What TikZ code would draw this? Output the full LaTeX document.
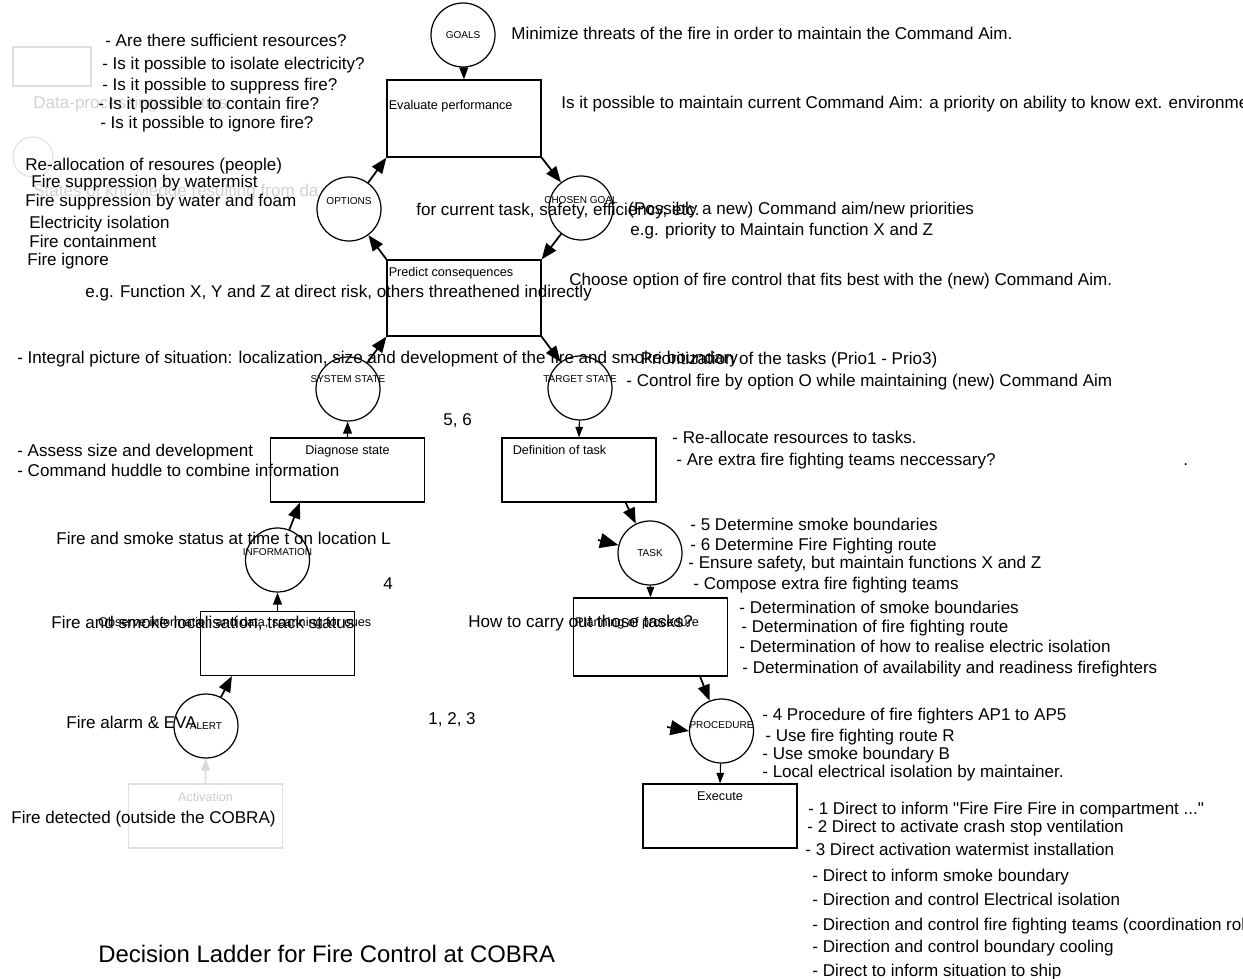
\documentclass[tikz,border=0pt]{standalone}
\usepackage{fontspec}
\setmainfont{Liberation Sans}
\usetikzlibrary{positioning,arrows.meta,calc}

\begin{document}
\begin{tikzpicture}[
    x=0.02cm, y=-0.02cm,
    every node/.style={font=\fontsize{9.7}{11}\selectfont},
    note/.style={anchor=west, inner sep=0pt, text height=7pt, text depth=2pt, yshift=-0.04cm},
    faded/.style={draw=gray!25, text=gray!35, line width=0.6pt},
    stepbox/.style={draw, line width=0.7pt, fill=white, minimum width=3.08cm, minimum height=1.28cm, inner sep=0pt},
    boxlabel/.style={inner sep=0pt, font=\fontsize{7.2}{8}\selectfont},
    statecirc/.style n args={2}{circle, draw, line width=0.7pt, fill=white, minimum size=1.28cm, inner sep=0pt,
      label={[inner sep=0pt, yshift=#2, font=\fontsize{5.7}{6}\selectfont]center:#1}},
    bigarrow/.style={-{Triangle[length=9pt,width=7pt]}, line width=1pt},
    strayarrow/.style={-{Triangle[length=10.5pt,width=8.5pt]}, line width=1pt},
    midarrow/.style={-{Triangle[length=6.8pt,width=5pt]}, line width=0.8pt},
    smallarrow/.style={-{Triangle[length=6pt,width=4.3pt]}, line width=0.6pt},
    titletext/.style={anchor=west, inner sep=0pt, font=\fontsize{13.6}{15}\selectfont}
  ]
    \useasboundingbox (0,0) rectangle (1243,979);
    \clip (0,0) rectangle (1243,979);

    % legend
    \node[faded, draw, minimum width=1.56cm, minimum height=0.78cm] (leg_box) at (52,66.5) {};
    \node[note, text=gray!35] (leg_box_txt) at (33,102) {Data-processing activities};
    \node[faded, draw, circle, minimum size=0.8cm] (leg_circ) at (33,157) {};
    \begin{scope}
      \clip (0,175) rectangle (318,205);
      \node[note, text=gray!35] (leg_circ_txt) at (33,190) {States of knowledge resulting from dataprocessing};
    \end{scope}

    % data-processing activities
    \node[stepbox, faded] (activation) at (205.5,816) {};
    \node[boxlabel, text=gray!40, below=0.16cm of activation.north] {Activation};
    \node[stepbox] (obs) at (277.5,643.5) {};
    \node[boxlabel, anchor=west] at (98,623) {Observe information and data, scanning for cues};
    \node[stepbox] (diag) at (347.5,470) {};
    \node[boxlabel, below=0.16cm of diag.north] {Diagnose state};
    \node[stepbox, minimum height=1.52cm] (pred) at (464,298) {};
    \node[boxlabel, below right=0.15cm and 0.04cm of pred.north west] {Predict consequences};
    \node[stepbox, minimum height=1.54cm] (eval) at (464,118.5) {};
    \node[boxlabel, below right=0.41cm and 0.04cm of eval.north west] {Evaluate performance};
    \node[stepbox] (deftask) at (579,470) {};
    \node[boxlabel, below right=0.16cm and 0.22cm of deftask.north west] {Definition of task};
    \node[stepbox, minimum height=1.56cm] (plan) at (650.5,637) {};
    \node[boxlabel, below right=0.39cm and 0.04cm of plan.north west] {Planning of procedure};
    \node[stepbox] (exec) at (720,816) {};
    \node[boxlabel, below=0.16cm of exec.north] {Execute};

    % states of knowledge
    \node[statecirc={ALERT}{0pt}] (alert) at (206,726) {};
    \node[statecirc={INFORMATION}{4.5pt}] (info) at (277.5,560) {};
    \node[statecirc={SYSTEM STATE}{5.5pt}] (system) at (348,389) {};
    \node[statecirc={OPTIONS}{4.5pt}] (options) at (349,209) {};
    \node[statecirc={GOALS}{0pt}] (goals) at (463,35) {};
    \node[statecirc={CHOSEN GOAL}{4.5pt}] (chosen) at (581,208) {};
    \node[statecirc={TARGET STATE}{5pt}] (target) at (580,388) {};
    \node[statecirc={TASK}{0pt}] (task) at (650,553) {};
    \node[statecirc={PROCEDURE}{3.5pt}] (proc) at (721.5,731) {};

    \coordinate (taskin) at (598,540);
    \coordinate (procin) at (667,727);

    % connectors
    \draw[midarrow, draw=gray!30, fill=gray!30] (activation.north) -- (alert);
    \draw[bigarrow] (alert) -- ($(obs.south west)+(32,0)$);
    \draw[midarrow] (obs.north) -- (info);
    \draw[bigarrow] (info) -- ($(diag.south west)+(30,0)$);
    \draw[midarrow] (diag.north) -- (system);
    \draw[bigarrow] (system) -- (pred.south west);
    \draw[bigarrow] (pred.north west) -- (options);
    \draw[bigarrow] (options) -- (eval.south west);
    \draw[midarrow] (goals) -- (eval.north);
    \draw[bigarrow] (eval.south east) -- (chosen);
    \draw[bigarrow] (chosen) -- (pred.north east);
    \draw[bigarrow] (pred.south east) -- (target);
    \draw[smallarrow] (target) -- (deftask.north);
    \draw[bigarrow] ($(deftask.south east)+(-31,0)$) -- (task);
    \draw[strayarrow] (taskin) -- (task);
    \draw[smallarrow] (task) -- (plan.north);
    \draw[bigarrow] ($(plan.south east)+(-28,0)$) -- (proc);
    \draw[strayarrow] (procin) -- (proc.west);
    \draw[smallarrow] (proc) -- (exec.north);

    % annotations
    \node[note] (goals_txt) at (511,33) {Minimize threats of the fire in order to maintain the Command Aim.};
    \node[note] (eval_txt) at (561,102) {Is it possible to maintain current Command Aim: a priority on ability to know ext. environment};
    \node[note] (q1) at (105,40) {- Are there sufficient resources?};
    \node[note] (q2) at (102,63) {- Is it possible to isolate electricity?};
    \node[note] (q3) at (102,84) {- Is it possible to suppress fire?};
    \node[note] (q4) at (98,103) {- Is it possible to contain fire?};
    \node[note] (q5) at (100,122) {- Is it possible to ignore fire?};
    \node[note] (o1) at (25,164) {Re-allocation of resoures (people)};
    \node[note] (o2) at (31,181) {Fire suppression by watermist};
    \node[note] (o3) at (25,200) {Fire suppression by water and foam};
    \node[note] (o4) at (29,222) {Electricity isolation};
    \node[note] (o5) at (29,241) {Fire containment};
    \node[note] (o6) at (27,259) {Fire ignore};
    \node[note] (crit) at (416,209) {for current task, safety, efficiency, etc.};
    \node[note] (cg1) at (628,208) {(Possibly a new) Command aim/new priorities};
    \node[note] (cg2) at (630,229) {e.g. priority to Maintain function X and Z};
    \node[note] (choose) at (569,279) {Choose option of fire control that fits best with the (new) Command Aim.};
    \node[note] (risk) at (85,291) {e.g. Function X, Y and Z at direct risk, others threathened indirectly};
    \node[note] (integral) at (17,357) {- Integral picture of situation: localization, size and development of the fire and smoke boundary};
    \node[note] (prio) at (630,358) {- Prioritization of the tasks (Prio1 - Prio3)};
    \node[note] (control) at (626,380) {- Control fire by option O while maintaining (new) Command Aim};
    \node[note] (n56) at (443,419) {5, 6};
    \node[note] (assess) at (17,450) {- Assess size and development};
    \node[note] (huddle) at (17,470) {- Command huddle to combine information};
    \node[note] (realloc) at (672,437) {- Re-allocate resources to tasks.};
    \node[note] (extra) at (676,459) {- Are extra fire fighting teams neccessary?};
    \node[note] (dot) at (1183,459) {.};
    \node[note] (t1) at (690,524) {- 5 Determine smoke boundaries};
    \node[note] (t2) at (690,544) {- 6 Determine Fire Fighting route};
    \node[note] (t3) at (688,562) {- Ensure safety, but maintain functions X and Z};
    \node[note] (t4) at (693,583) {- Compose extra fire fighting teams};
    \node[note] (status) at (56,538) {Fire and smoke status at time t on location L};
    \node[note] (n4) at (383,583) {4};
    \node[note] (localis) at (51,622) {Fire and smoke localisation, track status};
    \node[note] (howto) at (468,621) {How to carry out those tasks?};
    \node[note] (p1) at (739,607) {- Determination of smoke boundaries};
    \node[note] (p2) at (741,626) {- Determination of fire fighting route};
    \node[note] (p3) at (739,646) {- Determination of how to realise electric isolation};
    \node[note] (p4) at (742,667) {- Determination of availability and readiness firefighters};
    \node[note] (alarm) at (66,722) {Fire alarm \& EVA};
    \node[note] (n123) at (428,718) {1, 2, 3};
    \node[note] (r1) at (762,714) {- 4 Procedure of fire fighters AP1 to AP5};
    \node[note] (r2) at (765,735) {- Use fire fighting route R};
    \node[note] (r3) at (762,753) {- Use smoke boundary B};
    \node[note] (r4) at (762,771) {- Local electrical isolation by maintainer.};
    \node[note] (detected) at (11,817) {Fire detected (outside the COBRA)};
    \node[note] (e1) at (808,808) {- 1 Direct to inform \textquotedbl Fire Fire Fire in compartment ...\textquotedbl};
    \node[note] (e2) at (807,826) {- 2 Direct to activate crash stop ventilation};
    \node[note] (e3) at (805,849) {- 3 Direct activation watermist installation};
    \node[note] (e4) at (812,875) {- Direct to inform smoke boundary};
    \node[note] (e5) at (812,899) {- Direction and control Electrical isolation};
    \node[note] (e6) at (812,924) {- Direction and control fire fighting teams (coordination role)};
    \node[note] (e7) at (812,946) {- Direction and control boundary cooling};
    \node[note] (e8) at (812,970) {- Direct to inform situation to ship};
    \node[titletext] (title) at (98,954) {Decision Ladder for Fire Control at COBRA};
  \end{tikzpicture}
\end{document}
